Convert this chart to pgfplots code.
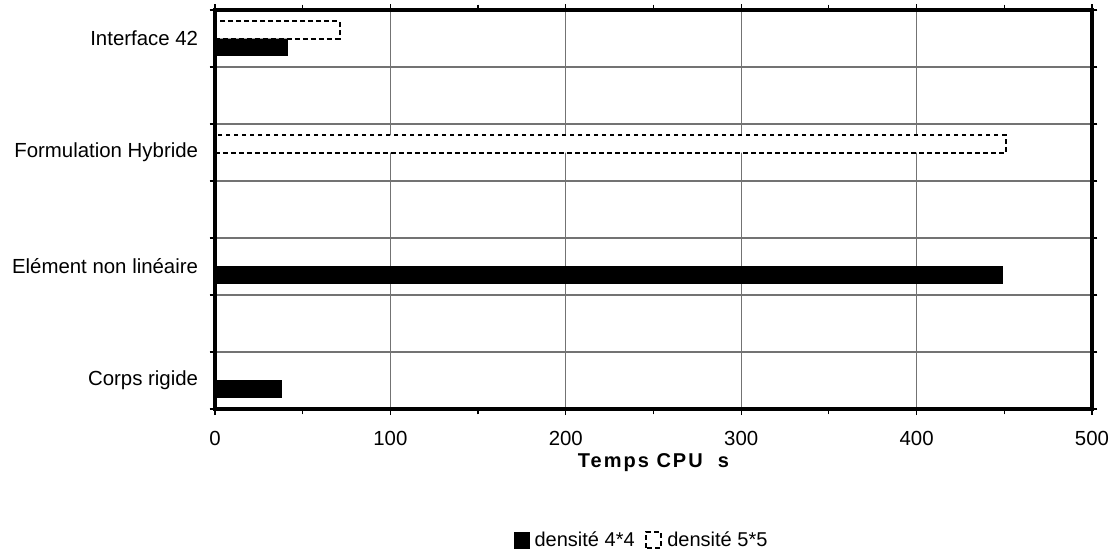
\documentclass[border=0pt]{standalone}
\usepackage{pgfplots}
\pgfplotsset{compat=1.18}
\usepackage{fontspec}
\setmainfont{Liberation Sans}
\begin{document}
\begin{tikzpicture}
\useasboundingbox (-161.25pt,-110.25pt) rectangle (671.25pt,306.75pt);
\begin{axis}[
  at={(0,0)}, anchor=south west,
  scale only axis,
  width=657.75pt, height=299.25pt,
  xbar,
  xmin=0, xmax=500, ymin=0, ymax=7,
  enlargelimits=false,
  clip=false,
  xtick={0,100,...,500},
  minor xtick={50,150,...,450},
  ytick={0.5,2.5,4.5,6.5},
  yticklabels={Corps rigide, Elément non linéaire, Formulation Hybride, Interface 42},
  minor ytick={0,1,...,7},
  every major y tick/.style={draw=none},
  xtick style={black, line width=0.9pt},
  minor tick style={black, line width=0.9pt},
  xmajorgrids=true,
  yminorgrids=true,
  major grid style={draw=black!55, line width=0.8pt},
  minor grid style={draw=black!55, line width=0.8pt},
  tick align=outside,
  major tick length=4.5pt,
  minor tick length=4pt,
  axis line style={black, line width=2.8pt},
  tick label style={font=\fontsize{15.3}{18}\selectfont},
  /pgf/number format/assume math mode=true,
  xticklabel style={yshift=-9pt},
  yticklabel style={anchor=east, inner sep=0pt, xshift=-8pt},
  xlabel={\addfontfeature{LetterSpace=10}\bfseries Temps CPU \ s},
  xlabel style={at={(axis description cs:0.5,-0.135)}, anchor=center, font=\fontsize{15}{18}\selectfont},
  bar width=0.3,
  legend columns=2,
  legend style={draw=none, at={(axis description cs:0.487,-0.328)}, anchor=center,
    font=\fontsize{15}{18}\selectfont, inner sep=0pt,
    /tikz/every odd column/.append style={column sep=2pt},
    /tikz/every even column/.append style={column sep=6pt}},
  legend image code/.code={\draw[#1] (0pt,-6pt) rectangle (11pt,6pt);},
]
\addplot[fill=black, draw=black, bar shift=-0.15] coordinates {(38,0.5) (449,2.5) (41,6.5)};
\addlegendentry{densité 4*4}
\addplot[fill=white, draw=black, line width=1.5pt, dash pattern=on 3.5pt off 2.5pt, bar shift=0.15] coordinates {(451,4.5) (71,6.5)};
\addlegendentry{densité 5*5}
\draw[black, line width=2.8pt, line join=miter] (rel axis cs:0,0) rectangle (rel axis cs:1,1);
\end{axis}
\end{tikzpicture}
\end{document}
